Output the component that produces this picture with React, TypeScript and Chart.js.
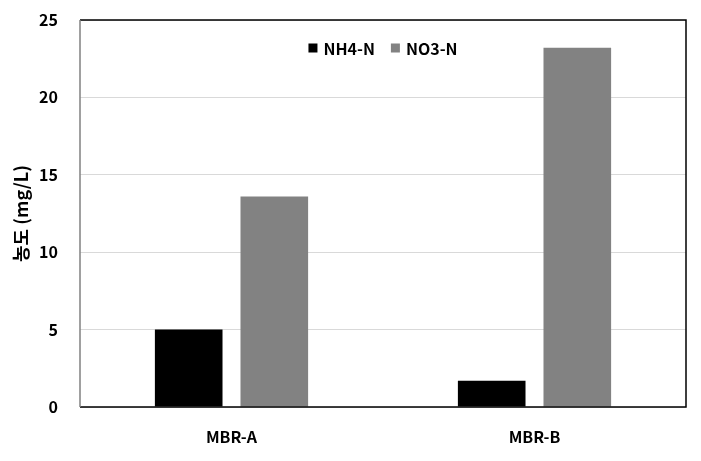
import React, { useEffect, useRef } from "react";
import { Chart, registerables } from "chart.js";

Chart.register(...registerables);

const categories = ["MBR-A", "MBR-B"];
const nh4Values = [5.0, 1.7];
const no3Values = [13.6, 23.2];
const yTicks = [0, 5, 10, 15, 20, 25];
const seriesNames = ["NH4-N", "NO3-N"];
const seriesColors = ["#000000", "#828282"];

const FONT = "'Noto Sans CJK KR', 'Noto Sans', sans-serif";

const borderPlugin = {
  id: "plotBorder",
  afterDraw(chart: any) {
    const { ctx, chartArea } = chart;
    const { left, top, right, bottom } = chartArea;
    ctx.save();
    ctx.lineWidth = 1.5;
    ctx.strokeStyle = "#000";
    ctx.beginPath();
    ctx.moveTo(left, top);
    ctx.lineTo(right, top);
    ctx.lineTo(right, bottom);
    ctx.lineTo(left, bottom);
    ctx.stroke();
    ctx.strokeStyle = "#808080";
    ctx.beginPath();
    ctx.moveTo(left, top);
    ctx.lineTo(left, bottom);
    ctx.stroke();
    ctx.restore();
  },
};

const legendPlugin = {
  id: "innerLegend",
  afterDraw(chart: any) {
    const { ctx, chartArea } = chart;
    ctx.save();
    ctx.font = `bold 16px ${FONT}`;
    ctx.textBaseline = "middle";
    const box = 9;
    const gapBoxText = 6;
    const gapItems = 16;
    const widths = seriesNames.map((n) => box + gapBoxText + ctx.measureText(n).width);
    const total = widths.reduce((a, b) => a + b, 0) + gapItems * (seriesNames.length - 1);
    const cx = (chartArea.left + chartArea.right) / 2;
    let x = cx - total / 2;
    const y = chartArea.top + 28;
    seriesNames.forEach((n, i) => {
      ctx.fillStyle = seriesColors[i];
      ctx.fillRect(x, y - box / 2, box, box);
      ctx.fillStyle = "#000";
      ctx.fillText(n, x + box + gapBoxText, y + 1);
      x += widths[i] + gapItems;
    });
    ctx.restore();
  },
};

export default function App() {
  const ref = useRef<HTMLCanvasElement>(null);
  useEffect(() => {
    document.body.style.margin = "0";
    const chart = new Chart(ref.current as HTMLCanvasElement, {
      type: "bar",
      data: {
        labels: categories,
        datasets: [
          { label: seriesNames[0], data: nh4Values, backgroundColor: seriesColors[0] },
          { label: seriesNames[1], data: no3Values, backgroundColor: seriesColors[1] },
        ],
      },
      plugins: [borderPlugin, legendPlugin],
      options: {
        responsive: false,
        animation: false,
        layout: { padding: { left: 0, top: 20, right: 15, bottom: 0 } },
        datasets: { bar: { categoryPercentage: 0.565, barPercentage: 0.79 } },
        plugins: {
          tooltip: { enabled: false },
          legend: { display: false },
        },
        scales: {
          x: {
            grid: { display: false },
            border: { display: false },
            ticks: {
              color: "#000",
              font: { family: FONT, size: 16, weight: "bold" },
              padding: 12,
            },
            afterFit(scale: any) {
              scale.height = 54;
              scale.paddingLeft = 0;
              scale.paddingRight = 0;
            },
          },
          y: {
            min: 0,
            max: 25,
            afterBuildTicks(scale: any) {
              scale.ticks = yTicks.map((v) => ({ value: v }));
            },
            grid: { color: "#d9d9d9", lineWidth: 1, drawTicks: false },
            border: { display: false },
            ticks: {
              color: "#000",
              font: { family: FONT, size: 16, weight: "bold" },
              padding: 22,
            },
            title: {
              display: true,
              text: "농도 (mg/L)",
              color: "#000",
              font: { family: FONT, size: 18, weight: "bold" },
              padding: { top: 10, bottom: 0 },
            },
            afterFit(scale: any) {
              scale.width = 80;
              scale.paddingTop = 0;
              scale.paddingBottom = 0;
            },
          },
        },
      },
    } as any);
    return () => chart.destroy();
  }, []);
  return (
    <div style={{ position: "absolute", left: 0, top: 0, width: 701, height: 461, background: "#fff" }}>
      <canvas ref={ref} width={701} height={461} />
    </div>
  );
}
